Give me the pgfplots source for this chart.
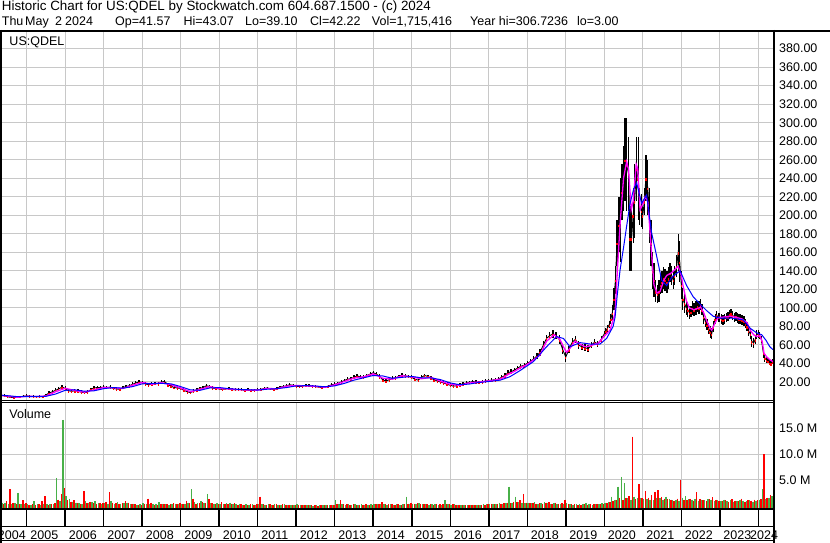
\documentclass[border=0pt]{standalone}
\usepackage{pgfplots}
\pgfplotsset{compat=1.18}
\usepackage{pgfplotstable}
\usepackage{fontspec}
\setmainfont{Liberation Sans}
\definecolor{gridc}{RGB}{200,200,200}
\definecolor{vgreen}{RGB}{72,176,72}
\definecolor{vred}{RGB}{255,0,0}
\definecolor{mag}{RGB}{255,0,255}
\definecolor{bl}{RGB}{0,0,255}

\pgfplotstableread{
x c r
2004.33 5.5 1.5
2004.42 5.0 1.5
2004.50 4.2 1.5
2004.58 3.4 1.2
2004.67 3.2 1.2
2004.75 3.6 1.2
2004.83 4.1 1.2
2004.92 4.6 1.2
2005.00 5.0 1.5
2005.08 4.6 1.5
2005.17 4.3 1.2
2005.25 4.0 1.2
2005.33 4.2 1.2
2005.42 4.0 1.2
2005.50 6.0 1.5
2005.58 8.0 2.0
2005.67 9.5 2.0
2005.75 11.0 2.0
2005.83 12.5 2.0
2005.92 14.5 2.5
2006.00 13.0 2.5
2006.08 10.5 2.0
2006.17 10.0 2.0
2006.25 10.5 2.0
2006.33 10.0 2.0
2006.42 9.0 2.0
2006.50 8.5 2.0
2006.58 9.0 2.0
2006.67 12.0 2.0
2006.75 13.5 2.0
2006.83 14.0 2.0
2006.92 14.0 2.0
2007.00 14.5 2.0
2007.08 14.0 2.0
2007.17 14.5 2.0
2007.25 13.0 2.0
2007.33 12.5 2.0
2007.42 12.0 2.0
2007.50 14.0 2.0
2007.58 15.0 2.0
2007.67 16.0 2.0
2007.75 17.5 2.0
2007.83 19.0 2.0
2007.92 20.0 2.0
2008.00 19.5 2.0
2008.08 18.0 2.0
2008.17 17.0 2.0
2008.25 17.5 2.0
2008.33 18.5 2.0
2008.42 18.0 2.0
2008.50 20.0 2.0
2008.58 20.5 2.0
2008.67 17.0 2.0
2008.75 15.5 2.0
2008.83 14.0 2.0
2008.92 13.5 2.0
2009.00 13.0 2.0
2009.08 11.0 2.0
2009.17 9.5 2.0
2009.25 8.5 2.0
2009.33 10.0 2.0
2009.42 11.5 2.0
2009.50 13.0 2.0
2009.58 14.0 2.0
2009.67 16.0 2.0
2009.75 15.0 2.0
2009.83 13.5 2.0
2009.92 13.0 2.0
2010.00 12.5 1.5
2010.08 12.0 1.5
2010.17 12.5 1.5
2010.25 13.0 1.5
2010.33 12.0 1.5
2010.42 11.5 1.5
2010.50 12.0 1.5
2010.58 11.5 1.5
2010.67 11.0 1.5
2010.75 11.5 1.5
2010.83 11.0 1.5
2010.92 11.0 1.5
2011.00 11.5 1.5
2011.08 12.0 1.5
2011.17 13.0 1.5
2011.25 13.5 1.5
2011.33 12.5 1.5
2011.42 12.0 1.5
2011.50 13.0 1.5
2011.58 14.5 1.5
2011.67 15.0 1.5
2011.75 16.0 1.5
2011.83 17.0 1.5
2011.92 16.5 1.5
2012.00 15.5 1.5
2012.08 15.0 1.5
2012.17 15.5 1.5
2012.25 16.5 1.5
2012.33 16.0 1.5
2012.42 15.5 1.5
2012.50 15.0 1.5
2012.58 14.5 1.5
2012.67 14.0 1.5
2012.75 14.5 1.5
2012.83 15.5 1.5
2012.92 17.0 1.5
2013.00 17.5 2.0
2013.08 18.5 2.0
2013.17 20.0 2.0
2013.25 21.5 2.0
2013.33 23.0 2.0
2013.42 23.5 2.0
2013.50 25.0 2.0
2013.58 26.5 2.0
2013.67 25.5 2.0
2013.75 25.0 2.0
2013.83 27.0 2.0
2013.92 28.5 2.0
2014.00 30.0 2.0
2014.08 28.5 2.0
2014.17 26.0 2.5
2014.25 22.0 2.0
2014.33 21.0 2.0
2014.42 22.5 2.0
2014.50 24.0 2.0
2014.58 24.5 2.0
2014.67 26.0 2.0
2014.75 27.5 2.0
2014.83 26.5 2.0
2014.92 26.0 2.0
2015.00 25.0 2.0
2015.08 23.0 2.0
2015.17 22.0 2.0
2015.25 25.0 2.0
2015.33 27.0 2.0
2015.42 26.0 2.0
2015.50 24.0 2.0
2015.58 22.5 2.0
2015.67 21.0 2.0
2015.75 20.0 2.0
2015.83 19.0 2.0
2015.92 17.5 2.0
2016.00 16.5 2.0
2016.08 15.5 2.0
2016.17 16.0 2.0
2016.25 17.0 2.0
2016.33 18.0 2.0
2016.42 19.0 2.0
2016.50 19.5 2.0
2016.58 20.5 2.0
2016.67 20.0 2.0
2016.75 19.5 2.0
2016.83 20.0 2.0
2016.92 21.0 2.0
2017.00 21.5 2.0
2017.08 22.0 2.0
2017.17 22.5 2.0
2017.25 23.0 2.0
2017.33 25.0 2.0
2017.42 27.0 2.5
2017.50 30.0 2.5
2017.58 31.0 2.5
2017.67 33.0 2.5
2017.75 35.0 2.5
2017.83 37.0 2.5
2017.92 38.0 3.0
2018.00 40.0 3.0
2018.08 42.0 3.0
2018.17 45.0 3.0
2018.25 48.0 3.0
2018.33 52.0 3.5
2018.42 60.0 4.0
2018.50 67.0 4.0
2018.58 70.0 4.0
2018.67 72.0 4.0
2018.75 70.0 4.0
2018.83 66.0 5.0
2018.92 55.0 5.0
2019.00 47.0 5.0
2019.08 55.0 4.0
2019.17 63.0 4.0
2019.25 66.0 4.0
2019.33 60.0 4.0
2019.42 58.0 3.5
2019.50 57.0 3.5
2019.58 56.0 3.5
2019.67 60.0 3.5
2019.75 63.0 3.5
2019.83 61.0 3.5
2019.92 66.0 3.5
2020.00 72.0 3.5
2020.04 75.0 3.5
2020.08 78.0 4.0
2020.13 82.0 4.0
2020.17 88.0 5.0
2020.21 95.0 8.0
2020.25 110.0 12.0
2020.29 130.0 15.0
2020.33 170.0 25.0
2020.38 190.0 30.0
2020.42 195.0 45.0
2020.46 225.0 30.0
2020.50 240.0 35.0
2020.54 260.0 45.0
2020.58 255.0 50.0
2020.63 245.0 40.0
2020.67 175.0 35.0
2020.71 175.0 35.0
2020.75 200.0 30.0
2020.79 215.0 40.0
2020.83 250.0 35.0
2020.88 240.0 45.0
2020.92 210.0 20.0
2020.96 205.0 18.0
2021.00 200.0 15.0
2021.04 215.0 15.0
2021.08 240.0 25.0
2021.13 230.0 30.0
2021.17 200.0 30.0
2021.21 170.0 25.0
2021.25 140.0 20.0
2021.29 130.0 18.0
2021.33 118.0 12.0
2021.38 115.0 10.0
2021.42 118.0 12.0
2021.46 125.0 10.0
2021.50 128.0 12.0
2021.54 132.0 12.0
2021.58 130.0 12.0
2021.63 128.0 12.0
2021.67 132.0 12.0
2021.71 138.0 10.0
2021.75 135.0 10.0
2021.79 130.0 10.0
2021.83 135.0 10.0
2021.88 145.0 12.0
2021.92 160.0 20.0
2021.96 150.0 22.0
2022.00 125.0 15.0
2022.04 110.0 12.0
2022.08 105.0 10.0
2022.13 100.0 8.0
2022.17 98.0 8.0
2022.21 95.0 7.0
2022.25 96.0 6.0
2022.29 100.0 8.0
2022.33 98.0 7.0
2022.38 100.0 8.0
2022.42 102.0 6.0
2022.46 100.0 7.0
2022.50 104.0 6.0
2022.54 98.0 6.0
2022.58 90.0 7.0
2022.63 85.0 6.0
2022.67 82.0 6.0
2022.71 78.0 6.0
2022.75 74.0 6.0
2022.79 72.0 6.0
2022.83 80.0 6.0
2022.88 88.0 5.0
2022.92 92.0 5.0
2022.96 90.0 5.0
2023.00 90.0 5.0
2023.04 88.0 5.0
2023.08 87.0 5.0
2023.13 88.0 5.0
2023.17 90.0 5.0
2023.21 91.0 5.0
2023.25 93.0 5.0
2023.29 94.0 5.0
2023.33 92.0 5.0
2023.38 90.0 5.0
2023.42 91.0 5.0
2023.46 89.0 5.0
2023.50 88.0 5.0
2023.54 88.0 5.0
2023.58 87.0 5.0
2023.63 86.0 5.0
2023.67 83.0 5.0
2023.71 80.0 5.0
2023.75 75.0 5.0
2023.79 72.0 6.0
2023.83 64.0 6.0
2023.88 62.0 5.0
2023.92 66.0 5.0
2023.96 71.0 5.0
2024.00 72.0 4.0
2024.04 70.0 4.0
2024.08 66.0 4.0
2024.13 52.0 6.0
2024.17 46.0 4.0
2024.21 44.0 3.0
2024.25 43.0 3.0
2024.29 41.0 3.0
2024.33 40.0 3.0
2024.38 42.0 3.0
}\price

\pgfplotstableread{
x m
2004.33 5.5
2004.50 4.8
2004.75 3.5
2005.00 4.6
2005.25 4.3
2005.50 4.8
2005.75 9.5
2006.00 13.2
2006.25 10.8
2006.50 9.0
2006.75 11.5
2007.00 14.0
2007.25 13.8
2007.50 13.0
2007.75 16.5
2008.00 19.5
2008.25 17.6
2008.50 19.2
2008.75 17.0
2009.00 13.5
2009.25 9.5
2009.50 12.0
2009.75 15.0
2010.00 13.0
2010.25 12.5
2010.50 11.8
2010.75 11.3
2011.00 11.2
2011.25 13.0
2011.50 12.6
2011.75 15.5
2012.00 16.2
2012.25 15.8
2012.50 15.3
2012.75 14.3
2013.00 17.0
2013.25 20.5
2013.50 24.2
2013.75 25.5
2014.00 28.8
2014.25 24.0
2014.50 23.0
2014.75 26.8
2015.00 25.5
2015.25 23.5
2015.50 25.0
2015.75 20.8
2016.00 17.5
2016.25 16.3
2016.50 19.2
2016.75 20.0
2017.00 21.2
2017.17 22.2
2017.33 23.5
2017.50 28.0
2017.67 31.5
2017.83 35.5
2018.00 39.0
2018.17 44.0
2018.33 49.0
2018.50 64.0
2018.70 71.0
2018.85 66.0
2018.94 58.0
2019.02 52.0
2019.12 57.0
2019.24 64.0
2019.37 61.0
2019.50 58.0
2019.63 59.0
2019.85 62.0
2019.98 68.5
2020.15 76.0
2020.28 94.0
2020.34 140
2020.41 190
2020.50 240
2020.58 258
2020.63 250
2020.70 206
2020.75 215
2020.83 255
2020.87 250
2020.93 206
2021.00 212
2021.06 220
2021.13 215
2021.21 170
2021.29 125
2021.37 116
2021.45 118
2021.55 130
2021.62 135
2021.75 138
2021.92 145
2022.00 135
2022.04 125
2022.13 108
2022.21 100
2022.33 98
2022.46 100
2022.50 101
2022.58 95
2022.66 86
2022.75 78
2022.79 76
2022.88 84
2022.96 90
2023.08 90
2023.25 91
2023.42 90
2023.58 88
2023.71 84
2023.79 76
2023.88 71
2023.96 69
2024.04 70
2024.10 64
2024.15 51
2024.22 47
2024.30 44
2024.38 42
}\magma

\pgfplotstableread{
x b
2004.33 5.8
2004.50 5.2
2004.75 4.2
2005.00 4.2
2005.25 4.4
2005.50 4.5
2005.75 7.0
2006.00 11.0
2006.25 11.5
2006.50 10.0
2006.75 10.5
2007.00 12.8
2007.25 14.0
2007.50 13.3
2007.75 15.0
2008.00 18.0
2008.25 18.5
2008.50 18.5
2008.75 18.0
2009.00 15.0
2009.25 11.5
2009.50 11.0
2009.75 13.5
2010.00 14.0
2010.25 12.8
2010.50 12.0
2010.75 11.6
2011.00 11.3
2011.25 12.2
2011.50 12.8
2011.75 14.0
2012.00 15.8
2012.25 16.0
2012.50 15.6
2012.75 14.8
2013.00 15.8
2013.25 18.5
2013.50 22.0
2013.75 24.5
2014.00 27.0
2014.25 26.5
2014.50 24.0
2014.75 25.0
2015.00 26.0
2015.25 24.5
2015.50 24.5
2015.75 22.5
2016.00 19.0
2016.25 17.0
2016.50 17.8
2016.75 19.5
2017.00 20.5
2017.30 22.0
2017.55 25.7
2017.80 32.0
2018.16 42.0
2018.50 58.0
2018.76 69.0
2018.94 67.0
2019.11 58.0
2019.37 62.5
2019.63 61.0
2019.89 61.0
2020.06 67.0
2020.23 80.0
2020.28 90.0
2020.34 115
2020.41 141
2020.50 165
2020.58 188
2020.67 213
2020.76 228
2020.84 235
2020.97 213
2021.10 222
2021.23 181
2021.36 156
2021.49 130
2021.62 124
2021.75 133
2021.90 138
2021.97 140
2022.14 124
2022.31 112
2022.49 104
2022.66 97
2022.83 91
2023.00 89
2023.31 89
2023.61 87
2023.79 78
2023.96 73
2024.09 71
2024.20 65
2024.30 58
2024.38 55
}\bluema

\pgfplotstableread{
m g r
4 0.6 0.4
5 0.5 0.9
6 0.4 3.2
7 0.3 0.5
8 0.5 0.3
9 2.5 0.4
10 0.4 1.1
11 0.3 0.5
12 0.3 0.2
13 0.2 0.3
14 0.9 0.2
15 0.3 0.3
16 0.2 0.9
17 0.4 1.9
18 0.3 0.2
19 0.4 0.3
20 0.3 0.5
21 5.4 1.2
22 1.0 2.3
23 16.6 3.4
24 1.9 1.1
25 1.4 0.8
26 0.8 1.1
27 0.6 0.5
28 0.5 0.4
29 0.4 2.9
30 0.9 0.5
31 0.6 0.8
32 0.7 0.5
33 0.9 0.4
34 0.5 0.6
35 0.4 0.5
36 0.5 0.8
37 0.4 2.7
38 0.9 0.6
39 0.3 0.5
40 0.7 0.3
41 0.4 0.5
42 0.5 0.9
43 0.6 0.6
44 0.3 0.4
45 0.4 0.3
46 0.2 0.2
47 0.3 0.2
48 0.5 0.4
49 0.4 1.4
50 0.3 0.6
51 0.3 0.2
52 0.3 0.2
53 0.7 0.3
54 0.4 0.3
55 0.3 0.4
56 0.2 0.3
57 0.3 0.5
58 0.4 0.3
59 0.3 0.6
60 0.3 0.4
61 0.4 1.0
62 0.6 0.5
63 3.2 1.4
64 0.7 0.4
65 0.5 0.5
66 0.9 0.7
67 0.6 0.5
68 2.3 1.3
69 0.6 0.5
70 0.4 0.4
71 0.5 0.3
72 0.3 0.7
73 0.4 0.4
74 0.5 0.3
75 0.6 0.3
76 0.3 0.5
77 0.3 0.2
78 0.4 0.3
79 0.2 0.2
80 0.3 0.2
81 0.2 0.3
82 0.3 0.2
83 0.2 0.3
84 0.4 1.8
85 0.3 0.3
86 0.2 0.2
87 0.3 0.3
88 0.2 0.2
89 0.3 0.4
90 0.2 0.2
91 0.2 0.3
92 0.3 0.2
93 0.2 0.2
94 0.1 0.2
95 0.2 0.2
96 0.3 0.1
97 0.2 0.1
98 0.1 0.2
99 0.1 0.1
100 0.1 0.1
101 0.0 0.1
102 0.1 0.0
103 0.1 0.1
104 0.1 0.1
105 0.2 0.1
106 0.1 0.2
107 0.2 0.1
108 1.1 0.3
109 0.4 1.1
110 0.3 0.3
111 0.2 0.3
112 0.3 0.2
113 0.2 0.3
114 0.3 0.2
115 0.2 0.2
116 0.3 0.2
117 0.2 0.3
118 0.2 0.2
119 0.3 0.2
120 0.3 0.3
121 0.4 0.3
122 0.3 0.7
123 0.3 0.3
124 0.2 0.3
125 0.3 0.4
126 0.2 0.2
127 0.3 0.3
128 0.2 0.2
129 0.3 0.3
130 1.8 0.4
131 0.4 0.5
132 0.4 0.4
133 0.3 0.5
134 0.5 0.3
135 0.3 0.4
136 0.3 0.3
137 0.2 0.4
138 0.3 0.2
139 0.3 0.3
140 0.2 0.3
141 0.2 0.3
142 1.1 0.3
143 0.3 0.4
144 0.2 0.3
145 0.3 0.2
146 0.2 0.2
147 0.1 0.2
148 0.2 0.1
149 0.1 0.1
150 0.2 0.2
151 0.2 0.1
152 0.2 0.2
153 0.2 0.2
154 0.3 0.2
155 0.3 0.3
156 0.3 0.3
157 0.4 0.3
158 0.3 0.4
159 0.6 0.3
160 0.4 0.5
161 0.5 0.6
162 3.7 0.5
163 0.6 0.8
164 1.8 0.7
165 0.7 1.1
166 0.6 2.3
167 0.5 0.6
168 0.6 0.5
169 0.5 0.6
170 0.7 0.4
171 0.4 0.5
172 0.5 0.4
173 0.7 0.6
174 0.6 0.7
175 0.4 0.4
176 0.5 0.6
177 0.3 0.4
178 0.4 0.5
179 0.4 1.2
180 0.5 0.4
181 0.3 0.3
182 0.2 0.3
183 0.3 0.2
184 0.3 0.2
185 0.4 0.3
186 0.5 0.2
187 0.3 0.3
188 0.2 0.3
189 0.3 0.4
190 0.4 0.3
191 0.5 0.4
192 0.6 0.5
193 0.8 0.7
194 1.8 0.9
195 1.2 1.1
196 3.7 1.6
197 5.6 1.2
198 4.4 1.5
199 1.5 1.9
200 1.2 13.4
201 1.8 1.3
202 1.5 4.2
203 1.6 1.5
204 1.4 2.9
205 1.3 1.6
206 1.2 2.1
207 1.1 2.7
208 1.6 3.0
209 1.5 1.8
210 1.2 1.4
211 1.8 1.3
212 1.3 1.2
213 1.1 1.0
214 1.2 1.4
215 1.0 5.0
216 1.6 1.2
217 1.9 1.1
218 1.3 1.4
219 1.2 1.0
220 1.4 2.6
221 1.0 1.3
222 1.2 1.1
223 1.1 0.9
224 1.3 1.3
225 1.2 1.7
226 0.9 1.2
227 1.1 1.0
228 1.0 1.0
229 1.2 1.1
230 0.9 0.8
231 1.1 1.3
232 0.8 1.0
233 1.0 0.9
234 1.2 1.4
235 1.0 0.8
236 0.9 1.1
237 1.1 1.0
238 0.8 1.2
239 1.0 1.1
240 1.1 1.3
241 3.2 10.0
242 1.4 1.6
243 1.6 2.1
244 1.9 1.2
}\vol

\begin{document}
\begin{tikzpicture}[font=\fontsize{12.5bp}{15bp}\selectfont]
\useasboundingbox (0bp,0bp) rectangle (830bp,543bp);
\fill[white] (0bp,0bp) rectangle (830bp,543bp);
% header
\node[anchor=base west, inner sep=0pt, font=\fontsize{13.4bp}{15bp}\selectfont] at (1.7bp,532bp) {Historic Chart for US:QDEL by Stockwatch.com 604.687.1500 - (c) 2024};
\node[anchor=base west, inner sep=0pt] at (1.7bp,517.5bp) {Thu};
\node[anchor=base west, inner sep=0pt] at (25bp,517.5bp) {May};
\node[anchor=base west, inner sep=0pt] at (55bp,517.5bp) {2};
\node[anchor=base west, inner sep=0pt] at (65bp,517.5bp) {2024};
\node[anchor=base west, inner sep=0pt] at (115bp,517.5bp) {Op=41.57};
\node[anchor=base west, inner sep=0pt] at (183.3bp,517.5bp) {Hi=43.07};
\node[anchor=base west, inner sep=0pt] at (245bp,517.5bp) {Lo=39.10};
\node[anchor=base west, inner sep=0pt] at (310bp,517.5bp) {Cl=42.22};
\node[anchor=base west, inner sep=0pt] at (371.7bp,517.5bp) {Vol=1,715,416};
\node[anchor=base west, inner sep=0pt] at (470bp,517.5bp) {Year hi=306.7236};
\node[anchor=base west, inner sep=0pt] at (577bp,517.5bp) {lo=3.00};

\pgfplotsset{
  common/.style={
    scale only axis, width=773.5bp, anchor=south west,
    axis line style={draw=none}, major tick length=0pt,
    grid=major, grid style={gridc, line width=1bp},
    xticklabels={}, yticklabel pos=right,
    yticklabel style={anchor=west, inner sep=0pt, xshift=5.5bp, font=\fontsize{12.5bp}{15bp}\selectfont},
  }
}
% price panel
\begin{axis}[common, at={(0bp,142.5bp)}, height=368.5bp,
  xmin=2004.3066, xmax=2024.395, ymin=0, ymax=398,
  xtick={2005,2006,...,2024}, ytick={20,40,...,380},
  /pgf/number format/.cd, fixed, fixed zerofill, precision=2, assume math mode=true]
\addplot[draw=none, mark=none, forget plot, error bars/.cd, y dir=both, y explicit, error mark=none,
  error bar style={draw=black, line width=1.3bp}] table[x=x, y=c, y error=r] {\price};
\addplot[black, line width=0.9bp, mark=none] table[x=x, y=c] {\price};
\addplot[draw=none, mark=none, forget plot, error bars/.cd, y dir=minus, y explicit, error mark=none,
  error bar style={draw=vred, line width=1.4bp}] table[x=x, y=c, y error minus expr={min(\thisrow{r},2.5)}] {\price};
\addplot[mag, line width=1.3bp, mark=none] table[x=x, y=m] {\magma};
\addplot[bl, line width=1bp, mark=none] table[x=x, y=b] {\bluema};
\end{axis}
% volume panel
\begin{axis}[common, at={(0bp,32bp)}, height=108.6bp,
  xmin=3.679, xmax=244.74, ymin=-1, ymax=20,
  xtick={12,24,...,240}, ytick={5,10,15}, yticklabels={5.0 M,10.0 M,15.0 M}]
\addplot[draw=none, mark=none, error bars/.cd, y dir=minus, y explicit, error mark=none,
  error bar style={draw=vgreen, line width=1.5bp}] table[x expr=\thisrow{m}+0.3, y=g, y error minus expr=\thisrow{g}+0.75] {\vol};
\addplot[draw=none, mark=none, error bars/.cd, y dir=minus, y explicit, error mark=none,
  error bar style={draw=vred, line width=1.5bp}] table[x expr=\thisrow{m}+0.78, y=r, y error minus expr=\thisrow{r}+0.75] {\vol};
\end{axis}
% labels inside panels
\node[anchor=base west, inner sep=0pt] at (9.3bp,497bp) {US:QDEL};
\node[anchor=base west, inner sep=0pt] at (9.3bp,124.7bp) {Volume};
% frames
\draw[line width=2bp] (0bp,512bp) -- (830bp,512bp);
\draw[line width=2bp] (1bp,513bp) -- (1bp,0bp);
\draw[line width=2bp] (774bp,513bp) -- (774bp,0bp);
\draw[line width=1bp] (0bp,142.5bp) -- (774bp,142.5bp);
\draw[line width=1bp] (0bp,140.7bp) -- (774bp,140.7bp);
\draw[line width=2bp] (0bp,33.8bp) -- (774bp,33.8bp);
\draw[line width=1.6bp] (0bp,16.3bp) -- (774bp,16.3bp);
\draw[line width=1.6bp] (0bp,2.3bp) -- (774bp,2.3bp);
\foreach \k in {0,...,19} {
  \draw[line width=1.5bp] ({26.7bp+38.505bp*\k},16.3bp) -- ({26.7bp+38.505bp*\k},33.8bp);
}
% year labels
\node[anchor=base east, inner sep=0pt] at (26bp,3.7bp) {2004};
\foreach \k in {0,...,18} {
  \pgfmathtruncatemacro{\yr}{2005+\k}
  \node[anchor=base west, inner sep=0pt] at ({30.2bp+38.505bp*\k},3.7bp) {\yr};
}
\node[anchor=base west, inner sep=0pt] at (750bp,3.7bp) {2024};
\end{tikzpicture}
\end{document}
